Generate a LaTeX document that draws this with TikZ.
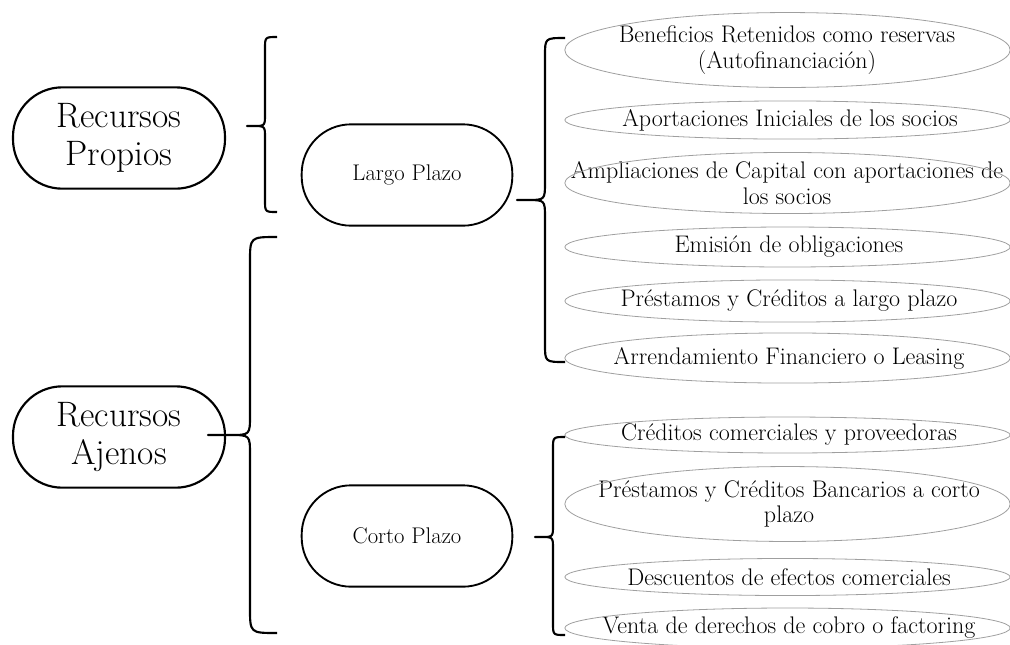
\documentclass[tikz,border=0pt]{standalone}
\usetikzlibrary{shapes.geometric}
\begin{document}
\begin{tikzpicture}[x=0.75pt,y=-0.75pt,
  bigbox/.style={draw, line width=1.6pt, rounded corners=37pt, minimum width=159pt, minimum height=76pt, align=center, font=\fontsize{26.5}{28}\selectfont},
  midbox/.style={draw, line width=1.4pt, rounded corners=37pt, minimum width=158pt, minimum height=76pt, font=\fontsize{17}{19}\selectfont},
  item/.style={align=center, font=\fontsize{18}{19}\selectfont, inner sep=0pt},
  oval/.style={draw=gray!75, line width=0.6pt},
  brace/.style={line width=1.6pt, line join=round}]
\useasboundingbox (0,0) rectangle (1010,644);

% main boxes
\node[bigbox] (rp) at (119,138) {Recursos\\Propios};
\node[bigbox] (ra) at (119,437) {Recursos\\Ajenos};
\node[midbox] (lp) at (407,175) {Largo Plazo};
\node[midbox] (cp) at (407,536) {Corto Plazo};

% items
\node[item] (e1) at (787,50) {Beneficios Retenidos como reservas\\(Autofinanciación)};
\node[item] (e2) at (790,120) {Aportaciones Iniciales de los socios};
\node[item] (e3) at (787,183) {Ampliaciones de Capital con aportaciones de\\los socios};
\node[item] (e4) at (789,247) {Emisión de obligaciones};
\node[item] (e5) at (789,301) {Préstamos y Créditos a largo plazo};
\node[item] (e6) at (789,358) {Arrendamiento Financiero o Leasing};
\node[item] (e7) at (789,435) {Créditos comerciales y proveedoras};
\node[item] (e8) at (789,504) {Préstamos y Créditos Bancarios a corto\\plazo};
\node[item] (e9) at (789,577) {Descuentos de efectos comerciales};
\node[item] (e10) at (789,628) {Venta de derechos de cobro o factoring};

\foreach \n/\ry in {e1/28.1, e2/14.3, e3/22.9, e4/15, e5/15.8, e6/18.8, e7/13.5, e8/28.1, e9/13.9, e10/15}
  \draw[oval] (787.5,0 |- \n.center) ellipse [x radius=167pt, y radius=\ry pt];

% braces
\draw[brace] (277,37) .. controls (265,37) .. (265,49) -- (265,114)
  .. controls (265,126) .. (253,126) -- (247,126) -- (253,126)
  .. controls (265,126) .. (265,138) -- (265,200) .. controls (265,212) .. (277,212);

\draw[brace] (277,237) .. controls (250,237) .. (250,262) -- (250,415)
  .. controls (250,435) .. (230,435) -- (208,435) -- (230,435)
  .. controls (250,435) .. (250,455) -- (250,608) .. controls (250,633) .. (277,633);

\draw[brace] (565,38) .. controls (545,38) .. (545,56) -- (545,182)
  .. controls (545,200) .. (527,200) -- (517,200) -- (527,200)
  .. controls (545,200) .. (545,218) -- (545,344) .. controls (545,362) .. (565,362);

\draw[brace] (565,437) .. controls (553,437) .. (553,449) -- (553,525)
  .. controls (553,537) .. (541,537) -- (535,537) -- (541,537)
  .. controls (553,537) .. (553,549) -- (553,623) .. controls (553,635) .. (565,635);
\end{tikzpicture}
\end{document}
